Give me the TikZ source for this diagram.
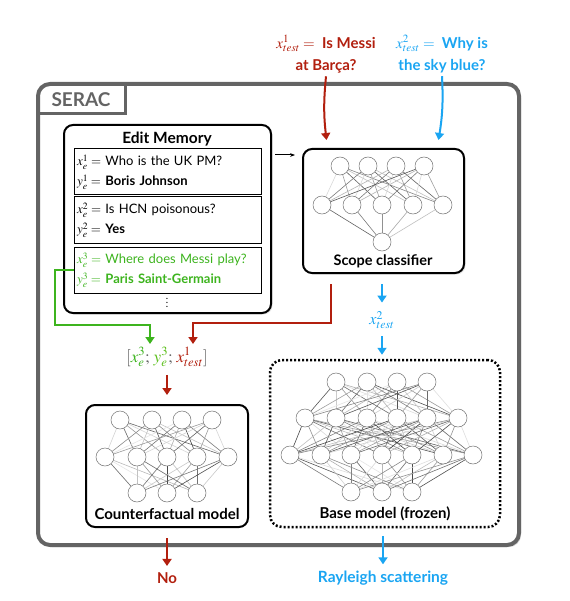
\documentclass[tikz,border=0pt]{standalone}
\usepackage{mathptmx}
\usepackage{fontspec}
\setmainfont{Lato}
\usetikzlibrary{positioning,arrows.meta,shadows}

\definecolor{sered}{HTML}{B21F0E}
\definecolor{seblue}{HTML}{1AA5F2}
\definecolor{segreen}{HTML}{3DB41E}
\definecolor{segray}{HTML}{646464}

\tikzset{
  neuron/.style={circle, draw=black!55, fill=white, line width=0.5pt, minimum size=18pt, inner sep=0pt},
  link/.style={line width=0.6pt},
  panel/.style={draw, line width=2pt, rounded corners=9pt, fill=white},
  membox/.style={draw, line width=1pt, minimum width=187pt, minimum height=46pt, text width=181pt,
                 align=left, inner sep=3pt, font=\fontsize{13}{20}\selectfont},
  arr/.style={-{Triangle[length=7pt,width=9pt]}, line width=2pt},
  boldlabel/.style={font=\bfseries\fontsize{15}{17}\selectfont},
}

\begin{document}
\begin{tikzpicture}[x=1pt, y=-1pt]
  \useasboundingbox (0,0) rectangle (569,601);

  % SERAC frame
  \node[draw=segray, line width=4pt, rounded corners=12pt, fill=white, minimum width=481pt, minimum height=461pt,
        drop shadow={shadow xshift=2pt, shadow yshift=-2pt, opacity=0.35}] (outer) at (278.5,314.5) {};
  \node[font=\bfseries\fontsize{19}{22}\selectfont, text=segray] (seractag) at (81,99.5) {SERAC};
  \draw[segray, line width=3pt] (outer.west |- 0,114) -| (125,84);

  % Test inputs
  \node[sered, align=center, font=\bfseries\fontsize{15}{22}\selectfont] (qone) at (326,54)
       {$x_{test}^{1} =$\ \ Is Messi\\ at Barça?};
  \node[seblue, align=center, font=\bfseries\fontsize{15}{22}\selectfont] (qtwo) at (442,54)
       {$x_{test}^{2} =$\ \ Why is\\ the sky blue?};

  % Edit memory
  \node[panel, minimum width=207pt, minimum height=188pt, drop shadow={shadow xshift=1.5pt, shadow yshift=-1.5pt, opacity=0.2}] (memory) at (167.5,219) {};
  \node[font=\bfseries\fontsize{15.5}{17}\selectfont] (memtitle) at (167,139) {Edit Memory};
  \node[membox] (mem1) at (167.5,172) {$x_e^1 =$ Who is the UK PM?\\ $y_e^1 =$ \textbf{Boris Johnson}};
  \node[membox] (mem2) at (167.5,220) {$x_e^2 =$ Is HCN poisonous?\\ $y_e^2 =$ \textbf{Yes}};
  \node[membox, text=segreen] (mem3) at (167.5,270) {$x_e^3 =$ Where does Messi play?\\ $y_e^3 =$ \textbf{Paris Saint-Germain}};
  \node (memdots) at (167,300) {$\vdots$};

  % Scope classifier
  \node[panel, minimum width=161pt, minimum height=124pt, drop shadow={shadow xshift=1.5pt, shadow yshift=-1.5pt, opacity=0.2}] (scope) at (383.5,211) {};
  \foreach \i/\x in {1/340,2/368,3/396,4/424} \coordinate (sa\i) at (\x,166);
  \foreach \j/\x in {1/322,2/352,3/382,4/413,5/443} \coordinate (sb\j) at (\x,205);
  \coordinate (sc1) at (382,242);
  \foreach \i in {1,...,4} \foreach \j in {1,...,5} {
    \pgfmathtruncatemacro\shade{mod(\i*37+\j*23,60)+15}
    \draw[link, draw=black!\shade] (sa\i) -- (sb\j);
  }
  \foreach \j in {1,...,5} {
    \pgfmathtruncatemacro\shade{mod(\j*41,50)+20}
    \draw[link, draw=black!\shade] (sb\j) -- (sc1);
  }
  \foreach \n in {sa1,sa2,sa3,sa4,sb1,sb2,sb3,sb4,sb5,sc1} \node[neuron] at (\n) {};
  \node[boldlabel, font=\bfseries\fontsize{14.5}{17}\selectfont] (scopelabel) at (383,261) {Scope classifier};

  % Counterfactual model
  \node[panel, minimum width=162pt, minimum height=122pt] (cf) at (167,466) {};
  \foreach \i/\x in {1/120,2/152,3/182,4/212} \coordinate (ca\i) at (\x,420);
  \foreach \j/\x in {1/105,2/137,3/167,4/197,5/228} \coordinate (cb\j) at (\x,457);
  \foreach \k/\x in {1/137,2/167,3/197} \coordinate (cc\k) at (\x,493);
  \foreach \i in {1,...,4} \foreach \j in {1,...,5} {
    \pgfmathtruncatemacro\shade{mod(\i*29+\j*43,65)+10}
    \draw[link, draw=black!\shade] (ca\i) -- (cb\j);
  }
  \foreach \j in {1,...,5} \foreach \k in {1,...,3} {
    \pgfmathtruncatemacro\shade{mod(\j*31+\k*17,65)+10}
    \draw[link, draw=black!\shade] (cb\j) -- (cc\k);
  }
  \foreach \n in {ca1,ca2,ca3,ca4,cb1,cb2,cb3,cb4,cb5,cc1,cc2,cc3} \node[neuron] at (\n) {};
  \node[boldlabel] (cflabel) at (167,514) {Counterfactual model};

  % Base model (frozen)
  \node[draw, line width=2.5pt, dash pattern=on 2pt off 2pt, rounded corners=12pt, fill=white,
        minimum width=230pt, minimum height=167pt] (base) at (385,443.5) {};
  \foreach \i/\x in {1/336,2/367,3/397,4/427} \coordinate (ba\i) at (\x,382);
  \foreach \j/\x in {1/305,2/336,3/367,4/397,5/427,6/458} \coordinate (bb\j) at (\x,418);
  \foreach \k/\x in {1/290,2/321,3/351,4/382,5/412,6/443,7/473} \coordinate (bc\k) at (\x,455);
  \foreach \l/\x in {1/351,2/382,3/412} \coordinate (bd\l) at (\x,492);
  \foreach \i in {1,...,4} \foreach \j in {1,...,6} {
    \pgfmathtruncatemacro\shade{mod(\i*37+\j*19,65)+10}
    \draw[link, draw=black!\shade] (ba\i) -- (bb\j);
  }
  \foreach \j in {1,...,6} \foreach \k in {1,...,7} {
    \pgfmathtruncatemacro\shade{mod(\j*23+\k*41,70)+8}
    \draw[link, draw=black!\shade] (bb\j) -- (bc\k);
  }
  \foreach \k in {1,...,7} \foreach \l in {1,...,3} {
    \pgfmathtruncatemacro\shade{mod(\k*31+\l*13,65)+8}
    \draw[link, draw=black!\shade] (bc\k) -- (bd\l);
  }
  \foreach \n in {ba1,ba2,ba3,ba4,bb1,bb2,bb3,bb4,bb5,bb6,bc1,bc2,bc3,bc4,bc5,bc6,bc7,bd1,bd2,bd3}
    \node[neuron] at (\n) {};
  \node[boldlabel] (baselabel) at (385,514) {Base model (frozen)};

  % Retrieved input
  \node[font=\fontsize{17}{19}\selectfont] (input) at (167,357)
       {$\color{segray}[\color{segreen}x_e^3\color{segray};\,\color{segreen!85!yellow}y_e^3\color{segray};\,\color{sered}x_{test}^1\color{segray}]$};
  \node[seblue, font=\fontsize{16}{18}\selectfont] (xtwo) at (382,320) {$x_{test}^2$};

  % Outputs
  \node[sered, font=\bfseries\fontsize{15}{17}\selectfont] (outno) at (167,578) {No};
  \node[seblue, font=\bfseries\fontsize{15.5}{17}\selectfont] (outray) at (383,578) {Rayleigh scattering};

  % Connectors
  \draw[arr, sered] (qone.south) to[bend right=6] ([xshift=-57pt, yshift=8pt]scope.north);
  \draw[arr, seblue] (qtwo.south) to[bend left=6] ([xshift=55pt, yshift=8pt]scope.north);
  \coordinate (memout) at (275,155);
  \draw[-{Stealth[length=5pt]}, line width=1pt, shorten >=7pt] (memout) -- (scope.west |- memout);
  \draw[arr, segreen] (mem3.west) -| (55,325) -| ([xshift=-17pt]input.north);
  \draw[arr, sered] ([xshift=-52.5pt, yshift=-10pt]scope.south) |- (193,323) -- ([xshift=26pt]input.north);
  \draw[arr, sered, shorten <=5pt, shorten >=9pt] (cf.north |- input.south) -- (cf.north);
  \draw[arr, seblue, shorten <=10pt, shorten >=5pt] (xtwo.north |- scope.south) -- (xtwo.north);
  \draw[arr, seblue, shorten <=4pt, shorten >=4pt] (xtwo.south) -- (xtwo.south |- base.north);
  \draw[arr, sered, shorten <=10pt, shorten >=3pt] (cf.south) -- (outno.north);
  \draw[arr, seblue, shorten <=8pt, shorten >=3pt] (base.south -| outray.north) -- (outray.north);
\end{tikzpicture}
\end{document}
